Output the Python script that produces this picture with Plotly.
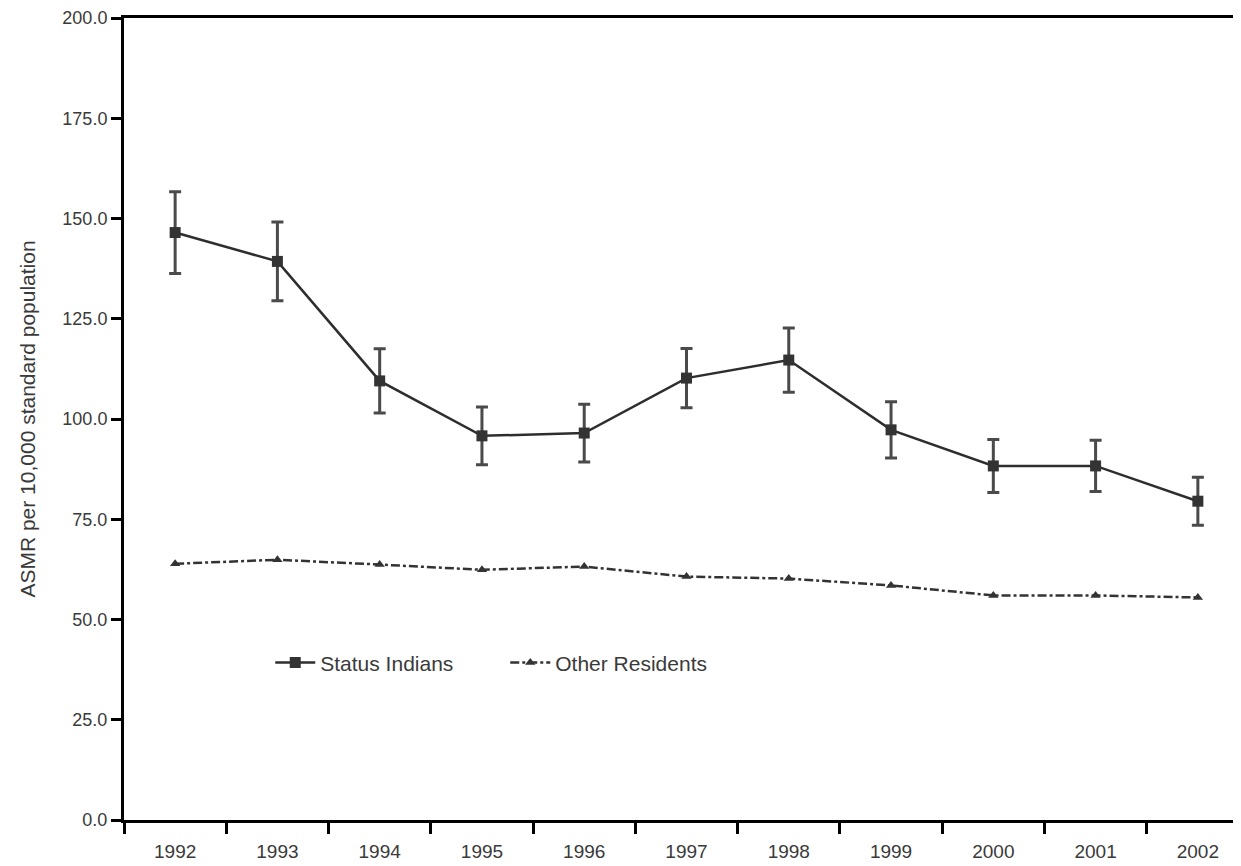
import plotly.graph_objects as go

years = ["1992", "1993", "1994", "1995", "1996", "1997", "1998", "1999", "2000", "2001", "2002"]
status_indians = [146.5, 139.3, 109.5, 95.8, 96.5, 110.2, 114.7, 97.3, 88.3, 88.3, 79.5]
status_err = [10.2, 9.8, 8.0, 7.2, 7.2, 7.4, 8.0, 7.0, 6.6, 6.4, 6.0]
other_residents = [63.9, 64.9, 63.7, 62.4, 63.2, 60.7, 60.2, 58.5, 56.0, 56.0, 55.5]
y_ticks = [0, 25, 50, 75, 100, 125, 150, 175, 200]

FONT = "Liberation Sans"
TXT = "#3a3a3a"

fig = go.Figure()
fig.add_trace(go.Scatter(
    x=years, y=status_indians, name="Status Indians",
    mode="lines+markers",
    line=dict(color="#2e2e2e", width=2.5),
    marker=dict(symbol="square", size=11, color="#333333"),
    error_y=dict(type="data", array=status_err, visible=True,
                 color="#4a4a4a", thickness=3, width=6),
))
fig.add_trace(go.Scatter(
    x=years, y=other_residents, name="Other Residents",
    mode="lines+markers",
    line=dict(color="#333333", width=2.5, dash="dashdot"),
    marker=dict(symbol="triangle-up", size=9, color="#333333"),
))

fig.update_layout(
    width=1241, height=866,
    margin=dict(l=116, r=0, t=10, b=54),
    paper_bgcolor="white", plot_bgcolor="white",
    font=dict(family=FONT, size=19, color=TXT),
    showlegend=True,
    legend=dict(orientation="h", x=0.13, y=0.196, xanchor="left", yanchor="middle",
                font=dict(family=FONT, size=21, color=TXT),
                bgcolor="rgba(0,0,0,0)", itemwidth=40,
                entrywidth=180, entrywidthmode="pixels"),
    xaxis=dict(
        type="category", range=[-0.5, 10.5],
        showline=True, linecolor="black", linewidth=3, mirror=True,
        ticks="outside", tickson="boundaries", ticklen=11, tickwidth=3, tickcolor="black",
        showgrid=False, zeroline=False, ticklabelstandoff=12,
        tickfont=dict(family=FONT, size=19, color=TXT),
    ),
    yaxis=dict(
        range=[0, 200], tickvals=y_ticks, tickformat=".1f",
        showline=True, linecolor="black", linewidth=3, mirror=False,
        ticks="outside", ticklen=10, tickwidth=3, tickcolor="black",
        showgrid=False, zeroline=False, ticklabeloverflow="allow",
        tickfont=dict(family=FONT, size=18, color=TXT),
        title=dict(text="ASMR per 10,000 standard population",
                   font=dict(family=FONT, size=21, color=TXT), standoff=22),
    ),
)

fig.write_html("out.html")
